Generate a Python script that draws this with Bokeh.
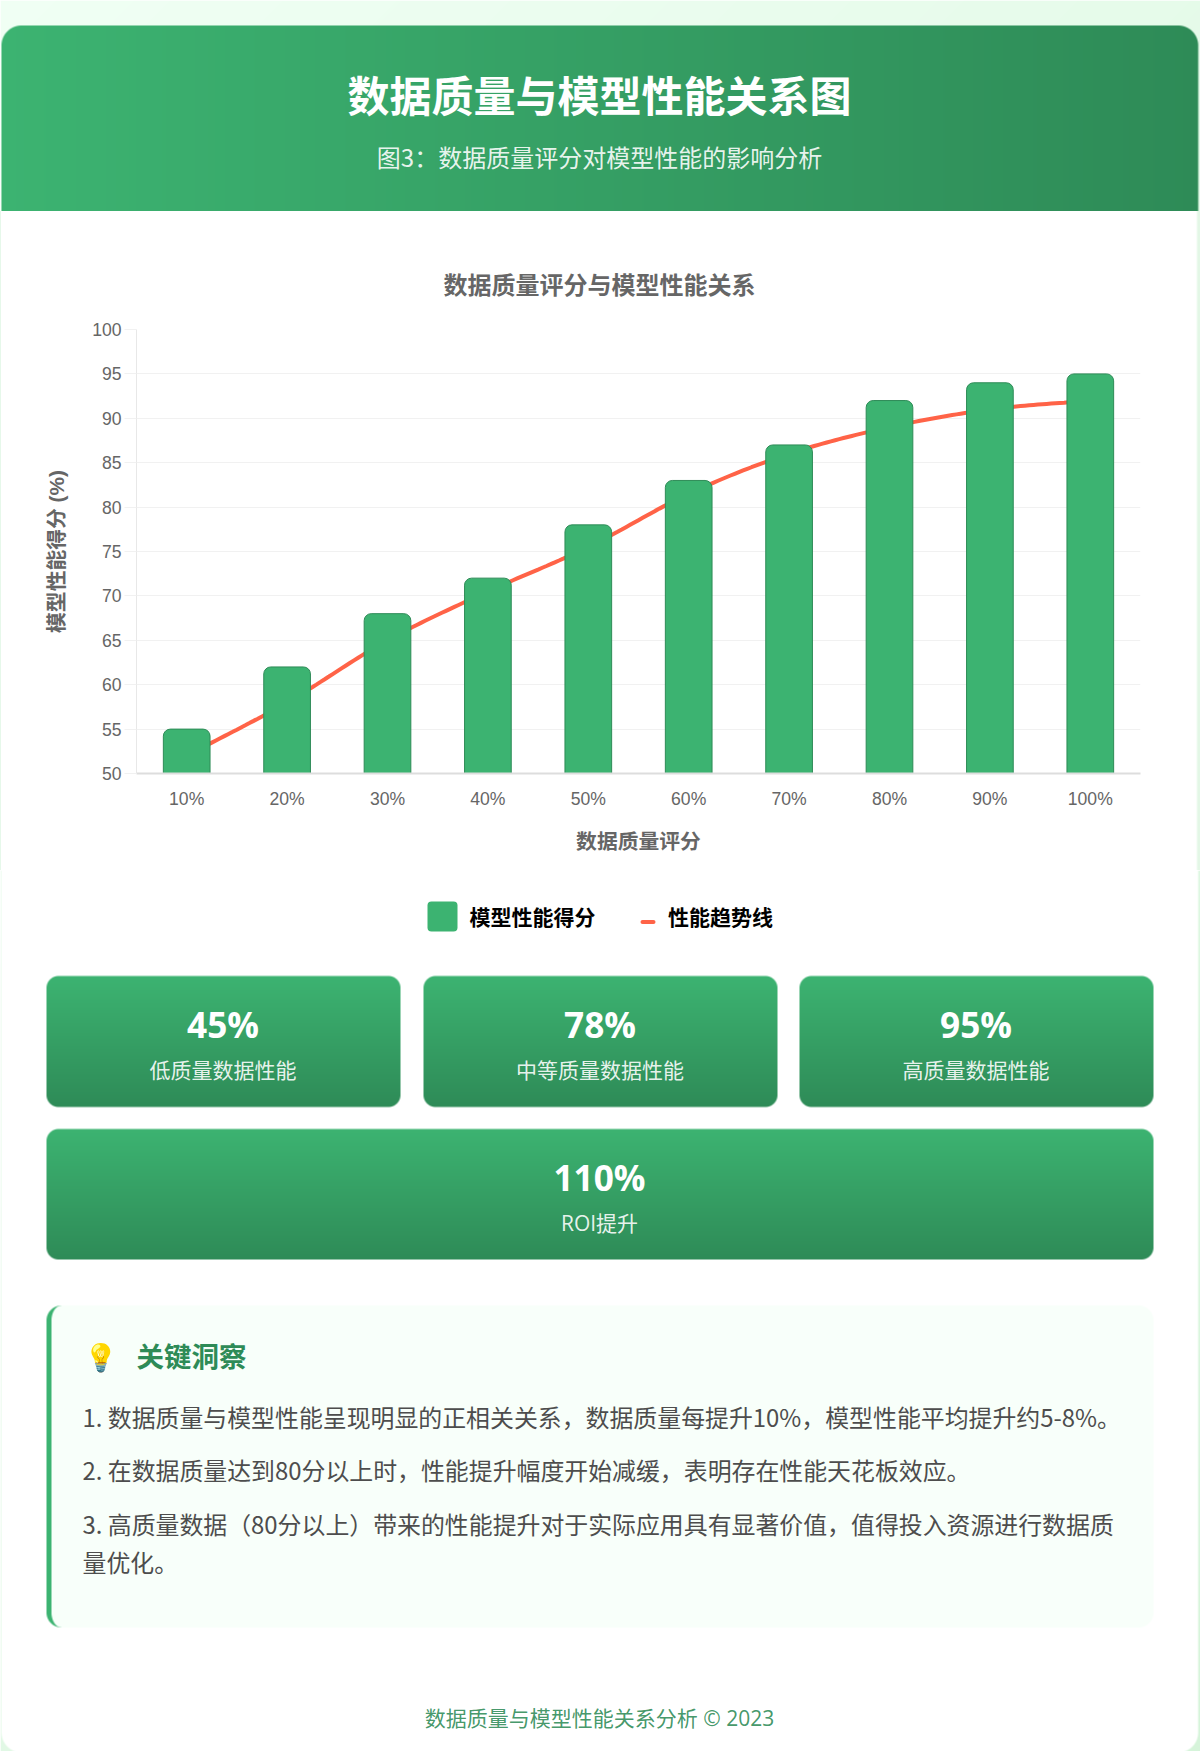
import numpy as np
from bokeh.plotting import figure
from bokeh.layouts import column
from bokeh.models import Range1d, FactorRange, FixedTicker
from bokeh.core.properties import value
from bokeh.embed import file_html
from bokeh.resources import INLINE

# ---------- data ----------
categories = ["10%", "20%", "30%", "40%", "50%", "60%", "70%", "80%", "90%", "100%"]
performance = [55, 62, 68, 72, 78, 83, 87, 92, 94, 95]
trend = [52, 58, 65, 70.5, 75.5, 81.5, 86, 89, 91, 92]
y_ticks = [50, 55, 60, 65, 70, 75, 80, 85, 90, 95, 100]

page_title = "数据质量与模型性能关系图"
page_subtitle = "图3\uff1a数据质量评分对模型性能的影响分析"
chart_title = "数据质量评分与模型性能关系"
x_label = "数据质量评分"
y_label = "模型性能得分 (%)"
legend_bar = "模型性能得分"
legend_line = "性能趋势线"
stat_values = ["45%", "78%", "95%", "110%"]
stat_labels = ["低质量数据性能", "中等质量数据性能", "高质量数据性能", "ROI提升"]
insight_title = "关键洞察"
insight_lines = [
    "1. 数据质量与模型性能呈现明显的正相关关系\uff0c数据质量每提升10%\uff0c模型性能平均提升约5-8%。",
    "2. 在数据质量达到80分以上时\uff0c性能提升幅度开始减缓\uff0c表明存在性能天花板效应。",
    "3. 高质量数据\uff0880分以上\uff09带来的性能提升对于实际应用具有显著价值\uff0c值得投入资源进行数据质",
    "量优化。",
]
footer = "数据质量与模型性能关系分析 © 2023"

# ---------- style ----------
GREEN = "#3cb371"
DARK = "#2e8b57"
TOMATO = "#ff6347"
CJK = "Noto Sans CJK SC"
W, H = 1200, 1751
TOP_END, CHART_END = 211, 870
CARD_L, CARD_R = 1.0, 1197.7


def hexrgb(c):
    return np.array([int(c[i:i + 2], 16) for i in (1, 3, 5)], dtype=float)


def grid(y0, y1):
    ys, xs = np.mgrid[y0:y1, 0:W]
    return xs + 0.5, ys + 0.5


def rrect(x, y, x0, y0, x1, y1, r):
    cx, cy = (x0 + x1) / 2, (y0 + y1) / 2
    qx = np.abs(x - cx) - (x1 - x0) / 2 + r
    qy = np.abs(y - cy) - (y1 - y0) / 2 + r
    d = np.hypot(np.maximum(qx, 0), np.maximum(qy, 0)) + np.minimum(np.maximum(qx, qy), 0) - r
    return np.clip(0.5 - d, 0, 1)


def blend(img, cov, col):
    if np.ndim(col) == 1:
        col = np.asarray(col)[None, None, :]
    img += (col - img) * cov[..., None]


def page_bg(x, y):
    t = ((x + y) / (W + H))[..., None]
    return hexrgb("#f0fff4") * (1 - t) + hexrgb("#d6f4da") * t


def to_rgba(img):
    h, w, _ = img.shape
    out = np.zeros((h, w), dtype=np.uint32)
    v = out.view(dtype=np.uint8).reshape((h, w, 4))
    v[..., :3] = np.clip(img + 0.5, 0, 255).astype(np.uint8)
    v[..., 3] = 255
    return out


def v_gradient(y, y0, y1):
    t = np.clip((y - y0) / (y1 - y0), 0, 1)[..., None]
    return hexrgb(GREEN) * (1 - t) + hexrgb(DARK) * t


def page_figure(y0, y1):
    f = figure(width=W, height=y1 - y0, x_range=Range1d(0, W), y_range=Range1d(-y1, -y0),
               x_axis_type=None, y_axis_type=None, toolbar_location=None,
               output_backend="svg", min_border=0, outline_line_color=None,
               background_fill_color="white", border_fill_color="white", frame_align=False)
    f.grid.visible = False
    return f


def put(f, x, y, s, size, color, bold=False, font=CJK, align="center", alpha=1.0):
    f.text(x=[x], y=[-y], text=[s], text_font=value(font), text_font_size=size,
           text_color=color, text_alpha=alpha, text_align=align, text_baseline="middle",
           text_font_style="bold" if bold else "normal")


# ---------- top: page background + header ----------
x, y = grid(0, TOP_END)
img = page_bg(x, y)
t = np.clip((x - CARD_L) / (CARD_R - CARD_L), 0, 1)[..., None]
blend(img, rrect(x, y, CARD_L, 25, CARD_R, 400, 20), hexrgb(GREEN) * (1 - t) + hexrgb(DARK) * t)
top = page_figure(0, TOP_END)
top.image_rgba(image=[to_rgba(img[::-1])], x=0, y=-TOP_END, dw=W, dh=TOP_END)
put(top, 599, 93, page_title, "42px", "#ffffff", bold=True)
put(top, 599, 156, page_subtitle, "24px", "#ffffff", alpha=0.9)

# ---------- chart ----------
p = figure(width=W, height=CHART_END - TOP_END,
           x_range=FactorRange(factors=categories, range_padding=0, factor_padding=0),
           y_range=Range1d(50, 100), toolbar_location=None, output_backend="svg",
           min_border_left=136, min_border_right=60, min_border_top=118, min_border_bottom=97,
           outline_line_color=None, background_fill_color="white", border_fill_color=None,
           frame_align=False,
           styles={"background": "linear-gradient(90deg,#e6f8ea 0,#e6f8ea 1px,#fff 1.5px,#fff 1196px,#e3f7e6 1198px)"})
p.title.text = chart_title
p.title.align = "left"
p.title.offset = 307
p.title.standoff = 61
p.title.text_font = "Liberation Sans, " + CJK
p.title.text_font_size = "24px"
p.title.text_font_style = "bold"
p.title.text_color = "#666666"

p.xgrid.visible = False
p.ygrid.ticker = FixedTicker(ticks=y_ticks)
p.ygrid.grid_line_color = "#f1f1f1"
p.ygrid.level = "underlay"

yax = p.yaxis[0]
yax.ticker = FixedTicker(ticks=y_ticks)
yax.axis_line_color = "#e8e8e8"
yax.major_tick_line_color = "#f1f1f1"
yax.major_tick_out = 12
yax.major_tick_in = 0
yax.minor_tick_line_color = None
yax.major_label_standoff = 3
yax.major_label_text_font = "Liberation Sans"
yax.major_label_text_font_size = "17.6px"
yax.major_label_text_color = "#666666"
yax.axis_label = y_label
yax.axis_label_text_font = "Liberation Sans, " + CJK
yax.axis_label_text_font_size = "20.8px"
yax.axis_label_text_font_style = "bold"
yax.axis_label_text_color = "#666666"
yax.axis_label_standoff = 21

xax = p.xaxis[0]
xax.axis_line_color = "#dddddd"
xax.axis_line_width = 2
xax.major_tick_line_color = None
xax.minor_tick_line_color = None
xax.major_tick_out = 0
xax.major_tick_in = 0
xax.major_label_standoff = 15
xax.major_label_text_font = "Liberation Sans"
xax.major_label_text_font_size = "17.6px"
xax.major_label_text_color = "#666666"
xax.axis_label = x_label
xax.axis_label_text_font = CJK
xax.axis_label_text_font_size = "20.8px"
xax.axis_label_text_font_style = "bold"
xax.axis_label_text_color = "#666666"
xax.axis_label_standoff = 13

# smooth curve through the trend values (cubic Hermite tangents, as a tension spline does)
tv = np.array(trend, dtype=float)
tan = np.gradient(tv)
cx, cy = [], []
for i in range(len(tv) - 1):
    for s in np.linspace(0, 1, 24, endpoint=i == len(tv) - 2):
        h00, h10 = 2 * s**3 - 3 * s**2 + 1, s**3 - 2 * s**2 + s
        h01, h11 = -2 * s**3 + 3 * s**2, s**3 - s**2
        cx.append(i + 0.5 + s)
        cy.append(h00 * tv[i] + h10 * tan[i] + h01 * tv[i + 1] + h11 * tan[i + 1])
p.line(cx, cy, line_color=TOMATO, line_width=4)
p.vbar(x=categories, top=performance, bottom=50, width=0.465, fill_color=GREEN,
       line_color=DARK, line_width=1, border_radius=(7, 7, 0, 0))

# ---------- bottom: legend, stats, insights, footer ----------
x, y = grid(CHART_END, H)
img = page_bg(x, y)
blend(img, rrect(x, y, CARD_L, 0, CARD_R, H + 1, 20), hexrgb("#ffffff"))
cards = [(46, 975.5, 400, 1106.5), (423, 975.5, 777, 1106.5), (799, 975.5, 1153, 1106.5), (46, 1128.5, 1153, 1259)]
for (l, tp, r, b) in cards:
    blend(img, rrect(x, y, l, tp, r, b, 12), v_gradient(y, tp, b))
# insight panel with its crescent-shaped left border
bl, bt, br, bb = 46, 1305, 1153, 1627
outer = rrect(x, y, bl, bt, br, bb, 15)
blend(img, outer, hexrgb("#f8fffa"))
inner = np.clip(x - (bl + 5) + 0.5, 0, 1)
dy = np.maximum(np.maximum((bt + 15) - y, y - (bb - 15)), 0)
dx = np.maximum((bl + 15) - x, 0)
ell = (np.sqrt((dx / 10.0) ** 2 + (dy / 15.0) ** 2) - 1) * 11
inner = inner * np.clip(0.5 - ell, 0, 1)
inner = np.where(x >= bl + 15, 1.0, inner)
blend(img, outer * (1 - inner), hexrgb(GREEN))

bot = page_figure(CHART_END, H)
bot.image_rgba(image=[to_rgba(img[::-1])], x=0, y=-H, dw=W, dh=H - CHART_END)

# legend
bot.quad(left=[427], right=[457], top=[-901], bottom=[-931], fill_color=GREEN, line_color=None, border_radius=4)
put(bot, 469, 915, legend_bar, "21px", "#000000", bold=True, align="left")
bot.quad(left=[640], right=[655], top=[-919.5], bottom=[-923.5], fill_color=TOMATO, line_color=None, border_radius=2)
put(bot, 667.5, 915, legend_line, "21px", "#000000", bold=True, align="left")

for (l, tp, r, b), v, lab in zip(cards, stat_values, stat_labels):
    mid = (l + r) / 2
    put(bot, mid - 0.5, tp + 48, v, "35.2px", "#ffffff", bold=True, font="Open Sans, " + CJK)
    put(bot, mid - 0.5, tp + 93.5, lab, "21px", "#ffffff", font="Open Sans, " + CJK, alpha=0.9)

put(bot, 100, 1354.5, "💡", "27px", "#000000")
put(bot, 136, 1354.5, insight_title, "27.5px", DARK, bold=True, align="left")
for ly, line in zip([1415.5, 1469, 1523, 1561], insight_lines):
    put(bot, 82, ly, line, "23.9px", "#4d4d4d", align="left")
put(bot, 599, 1717, footer, "21px", DARK, font="Open Sans, " + CJK, alpha=0.9)

page = column(top, p, bot, spacing=0, margin=(0, 0, 0, 0))
open("out.html", "w").write(file_html(page, INLINE))
